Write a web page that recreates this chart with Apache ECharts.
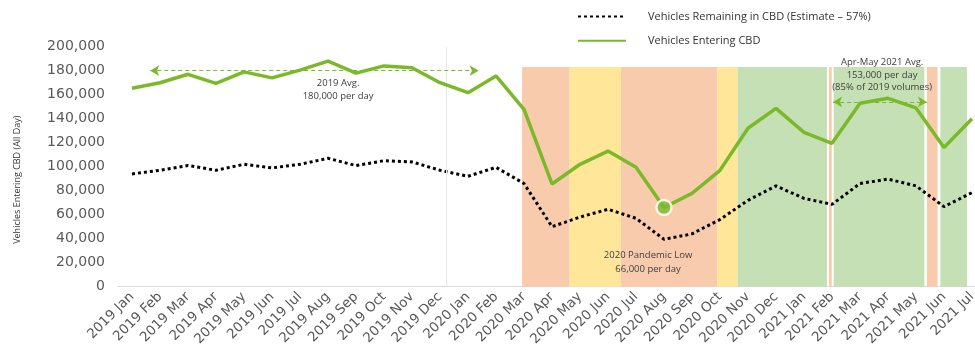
<!DOCTYPE html>
<html>
<head>
<meta charset="utf-8">
<script src="https://cdn.jsdelivr.net/npm/echarts@6/dist/echarts.min.js"></script>
<style>
  html, body { margin: 0; padding: 0; background: #ffffff; }
  #chart { width: 975px; height: 356px; }
</style>
</head>
<body>
<div id="chart"></div>
<script>
// Monthly categories, Jan 2019 – Jul 2021
const months = [
  '2019 Jan','2019 Feb','2019 Mar','2019 Apr','2019 May','2019 Jun','2019 Jul','2019 Aug',
  '2019 Sep','2019 Oct','2019 Nov','2019 Dec','2020 Jan','2020 Feb','2020 Mar','2020 Apr',
  '2020 May','2020 Jun','2020 Jul','2020 Aug','2020 Sep','2020 Oct','2020 Nov','2020 Dec',
  '2021 Jan','2021 Feb','2021 Mar','2021 Apr','2021 May','2021 Jun','2021 Jul'
];

// Average vehicles per day entering the CBD
const entering = [
  165300, 170000, 177000, 169500, 179000, 174000, 180500, 188000,
  178000, 184000, 182500, 170000, 161700, 175600, 147800, 85600,
  102000, 113000, 99500, 66000, 77800, 97000, 132000, 148600,
  128600, 119500, 152800, 157000, 149000, 116000, 140000
];

// Estimated vehicles remaining in the CBD
const remaining = [
  94000, 97000, 101000, 97000, 102000, 99000, 102000, 107000,
  101000, 105000, 104000, 97000, 92000, 99500, 86000, 50000,
  58000, 64500, 57000, 39500, 44000, 56000, 72000, 84000,
  73600, 68600, 86000, 89700, 84000, 66700, 78400
];

const yTicks = [0, 200000, 20000]; // min, max, interval

// Restriction periods, in month-index units (start, end, level)
const periodStart = [13.93, 15.63, 16.43, 17.46, 20.91, 21.63, 24.89, 25.06, 28.39, 28.87];
const periodEnd   = [15.63, 16.43, 17.46, 20.91, 21.63, 24.82, 24.99, 28.30, 28.77, 29.82];
const periodLevel = ['red', 'amber', 'amber', 'red', 'amber', 'green', 'red', 'green', 'red', 'green'];
const periodTop = 183000;

// Averages drawn as double-headed arrows: [from, to, value]
const avg2019 = [0.65, 12.38, 180000];
const avgAprMay2021 = [25.04, 28.39, 154000];

const GREEN = '#7ab929';
const levelColor = { red: '#f8cbad', amber: '#ffe699', green: '#c5e0b4' };
const textFont = '"Open Sans", sans-serif';
const axisFont = '"DejaVu Sans", Verdana, sans-serif';

const lowIdx = entering.indexOf(Math.min(...entering));

const chart = echarts.init(document.getElementById('chart'), null, { renderer: 'canvas' });

const areas = periodStart.map((s, i) => [
  { xAxis: s, yAxis: -2500, itemStyle: { color: levelColor[periodLevel[i]] } },
  { xAxis: periodEnd[i], yAxis: periodTop }
]);

const note = (x, y, text, lh) => ({
  coord: [x, y],
  symbol: 'circle',
  symbolSize: 0,
  label: {
    show: true, position: 'inside', formatter: text,
    fontFamily: textFont, fontSize: 9.5, color: '#404040', lineHeight: lh, align: 'center'
  }
});

const arrowLine = (a) => [
  { coord: [a[0], a[2]] },
  { coord: [a[1], a[2]] }
];

chart.setOption({
  animation: false,
  grid: {
    left: 118, top: 46.7, width: 868, height: 240,
    containLabel: false, outerBoundsMode: 'none'
  },
  legend: {
    data: ['Vehicles Remaining in CBD (Estimate – 57%)', 'Vehicles Entering CBD'],
    orient: 'vertical',
    left: 572,
    top: 6,
    itemWidth: 48,
    itemHeight: 14,
    itemGap: 13,
    itemStyle: { opacity: 0 },
    textStyle: { fontFamily: textFont, fontSize: 11, color: '#333', padding: [0, 0, 0, 17] }
  },
  xAxis: [
    {
      type: 'category',
      data: months,
      boundaryGap: true,
      axisLine: { show: true, lineStyle: { color: '#d9d9d9', width: 1 } },
      axisTick: { show: false },
      axisLabel: {
        interval: 0, rotate: 45, margin: 8,
        fontFamily: axisFont, fontSize: 13.5, color: '#595959'
      },
      splitLine: { show: false }
    },
    {
      type: 'value',
      min: -0.5,
      max: 30.5,
      show: false,
      splitLine: { show: false }
    }
  ],
  yAxis: {
    type: 'value',
    min: yTicks[0],
    max: yTicks[1],
    interval: yTicks[2],
    name: 'Vehicles Entering CBD (All Day)',
    nameLocation: 'middle',
    nameGap: 96,
    nameTextStyle: { fontFamily: textFont, fontSize: 9, color: '#333', padding: [0, 26, 0, 0] },
    axisLine: { show: false },
    axisTick: { show: false },
    splitLine: { show: false },
    axisLabel: {
      margin: 13,
      fontFamily: axisFont, fontSize: 14, color: '#595959',
      formatter: (v) => v.toLocaleString('en-US')
    }
  },
  series: [
    {
      name: 'periods',
      type: 'line',
      xAxisIndex: 1,
      data: [[-0.5, null]],
      symbol: 'none',
      clip: false,
      silent: true,
      z: 1,
      lineStyle: { width: 0 },
      markArea: { silent: true, data: areas },
      markLine: {
        silent: true,
        symbol: ['none', 'none'],
        label: { show: false },
        lineStyle: { color: '#e6e6e6', width: 1, type: 'solid' },
        data: [{ xAxis: 11.21 }]
      }
    },
    {
      name: 'annotations',
      type: 'line',
      xAxisIndex: 1,
      data: [[-0.5, null]],
      symbol: 'none',
      clip: false,
      silent: true,
      z: 3,
      lineStyle: { width: 0 },
      markLine: {
        silent: true,
        symbol: ['arrow', 'arrow'],
        symbolSize: [8, 9],
        label: { show: false },
        lineStyle: { color: GREEN, width: 1.2, type: [4, 3] },
        data: [arrowLine(avg2019), arrowLine(avgAprMay2021)]
      },
      markPoint: {
        silent: true,
        data: [
          note(7.36, 164000, '2019 Avg.\n180,000 per day', 13),
          note(26.79, 176400, 'Apr-May 2021 Avg.\n153,000 per day\n(85% of 2019 volumes)', 12.5),
          note(18.43, 20200, '2020 Pandemic Low\n66,000 per day', 13.5)
        ]
      }
    },
    {
      name: 'Vehicles Remaining in CBD (Estimate – 57%)',
      type: 'line',
      data: remaining,
      symbol: 'none',
      smooth: false,
      z: 4,
      color: '#000000',
      lineStyle: { color: '#000000', width: 3, type: [3, 3], cap: 'butt' }
    },
    {
      name: 'Vehicles Entering CBD',
      type: 'line',
      data: entering,
      symbol: 'none',
      z: 5,
      color: GREEN,
      lineStyle: { color: GREEN, width: 3.5 }
    },
    {
      name: 'pandemic low',
      type: 'scatter',
      data: [[lowIdx, entering[lowIdx]]],
      symbol: 'circle',
      symbolSize: 15,
      z: 6,
      itemStyle: { color: GREEN, borderColor: '#ffffff', borderWidth: 2.5 }
    }
  ]
});
</script>
</body>
</html>
